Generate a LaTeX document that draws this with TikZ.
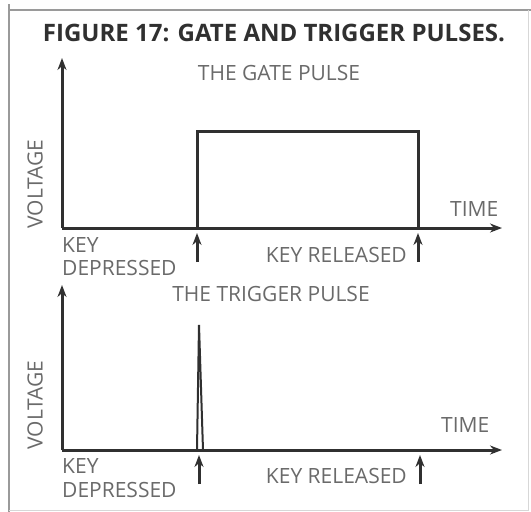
\documentclass[tikz,border=0pt]{standalone}
\usepackage{fontspec}
\setmainfont{Open Sans}
\usetikzlibrary{arrows.meta}
\definecolor{ink}{HTML}{303030}
\definecolor{labelgray}{HTML}{6A6A6A}
\definecolor{framegray}{HTML}{9A9A9A}
\begin{document}
\begin{tikzpicture}[x=1pt,y=-1pt,
  axis/.style={ink,line width=3pt,-{Stealth[length=12pt,width=9pt]}},
  signal/.style={ink,line width=3pt,line join=miter},
  marker/.style={ink,line width=3pt,-{Stealth[length=12pt,width=9pt]}},
  lbl/.style={labelgray,font=\fontsize{21}{21}\selectfont,inner sep=0pt},
  ttl/.style={ink,font=\fontsize{24}{24}\selectfont\bfseries,inner sep=0pt}]
\useasboundingbox (0,0) rectangle (531,512);
\fill[white] (0,0) rectangle (531,512);
% page frame
\draw[framegray,line width=1.6pt] (8,10) -- (531,10);
\draw[framegray,line width=1.6pt] (9,4) -- (9,512);
\draw[framegray!40,line width=1pt] (528,10) -- (528,510) -- (9,510);

\node[ttl,anchor=center] (title) at (274,33) {FIGURE 17: GATE AND TRIGGER PULSES.};

% ---------- gate pulse ----------
\coordinate (o1) at (62,228);
\coordinate (ytop1) at (62,58);
\coordinate (xend1) at (502,228);
\draw[axis] (o1) -- (ytop1);
\draw[axis] (o1) -- (xend1);
\coordinate (rise1) at (197,228);
\coordinate (fall1) at (418,228);
\draw[signal] (rise1) -- (197,131) -- (418,131) -- (fall1);

\node[lbl,anchor=center] (gate) at (279,73) {THE GATE PULSE};
\node[lbl,anchor=center,rotate=90] (volt1) at (35,184) {VOLTAGE};
\node[lbl,anchor=west] (time1) at (450,209) {TIME};
\node[lbl,anchor=west] (key1) at (62,245) {KEY};
\node[lbl,anchor=west] (dep1) at (62,268) {DEPRESSED};
\node[lbl,anchor=east] (rel1) at (407,255) {KEY RELEASED};
\coordinate (m1a) at (197,262);
\coordinate (m1b) at (418,262);
\draw[marker] (m1a) -- (197,233);
\draw[marker] (m1b) -- (418,233);

% ---------- trigger pulse ----------
\coordinate (o2) at (62,450);
\coordinate (ytop2) at (62,285);
\coordinate (xend2) at (502,450);
\draw[axis] (o2) -- (ytop2);
\draw[axis] (o2) -- (xend2);
\coordinate (spike) at (199,325);
\draw[ink,line width=2pt,line join=miter] (197,450) -- (spike) -- (203,450);

\node[lbl,anchor=center] (trig) at (271,294) {THE TRIGGER PULSE};
\node[lbl,anchor=center,rotate=90] (volt2) at (35,405) {VOLTAGE};
\node[lbl,anchor=west] (time2) at (441,425) {TIME};
\node[lbl,anchor=west] (key2) at (62,466) {KEY};
\node[lbl,anchor=west] (dep2) at (62,490) {DEPRESSED};
\node[lbl,anchor=east] (rel2) at (407,476) {KEY RELEASED};
\coordinate (m2a) at (199,484);
\coordinate (m2b) at (420,484);
\draw[marker] (m2a) -- (199,455);
\draw[marker] (m2b) -- (420,455);
\end{tikzpicture}
\end{document}
